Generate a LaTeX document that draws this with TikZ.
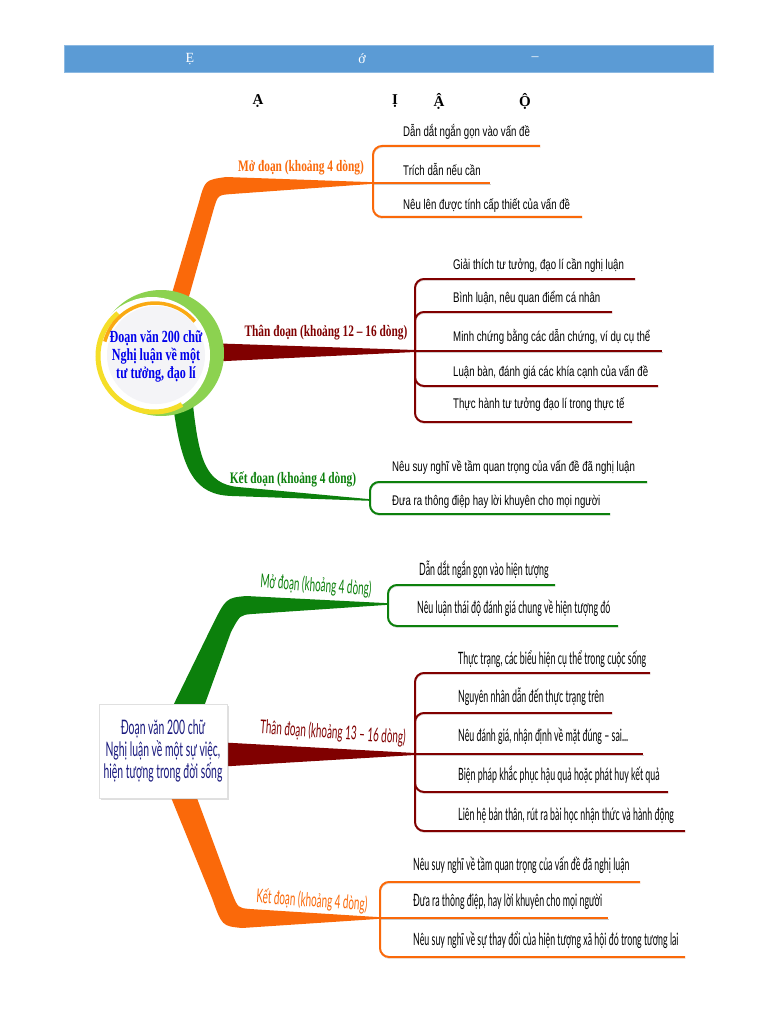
\documentclass[tikz,border=0pt]{standalone}
\usepackage{fontspec}
\setmainfont{Liberation Serif}
\newfontfamily\nhanfont{Liberation Serif}[FakeStretch=0.71]
\newfontfamily\lafont{Liberation Sans}[FakeStretch=0.69]
\newfontfamily\avofont{Lato}[FakeStretch=0.52]
\usetikzlibrary{calc,shadows}

\definecolor{banner}{RGB}{91,155,213}
\definecolor{cam}{RGB}{250,105,10}
\definecolor{nau}{RGB}{128,0,0}
\definecolor{la}{RGB}{12,128,12}
\definecolor{ringgreen}{RGB}{140,210,80}
\definecolor{ringyellow}{RGB}{245,222,40}
\definecolor{ringorange}{RGB}{250,170,20}
\definecolor{discgray}{RGB}{244,244,247}
\definecolor{xanh}{RGB}{0,0,235}
\definecolor{navy}{RGB}{25,25,125}

\begin{document}
\begin{tikzpicture}[
    x=1pt, y=-1pt,
    every node/.style={inner sep=0pt},
    leafA/.style={font=\lafont\fontsize{14}{16}\selectfont, anchor=west, text height=9.5pt, text depth=3pt},
    leafB/.style={font=\avofont\fontsize{17}{19}\selectfont, anchor=west, text height=11pt, text depth=3.5pt},
    labA/.style={font=\nhanfont\bfseries\fontsize{16}{18}\selectfont},
    labB/.style={font=\avofont\fontsize{19}{21}\selectfont, rotate=-4},
    twig/.style={line width=2pt, rounded corners=9pt,
      preaction={draw=black!20, transform canvas={shift={(0.5pt,-1.5pt)}}}}
]
  \fill[white] (0,0) rectangle (768,1024);
  \useasboundingbox (0,0) rectangle (768,1024);

  % Banner and title
  \node[fill=banner, draw=banner!70!white, minimum width=649pt, minimum height=27pt, anchor=north west] (banner) at (64,45) {};
  \node[text=white, font=\fontsize{14}{16}\selectfont] (bn1) at (190,59) {Ẹ};
  \node[text=white, font=\fontsize{14}{16}\selectfont] (bn2) at (362,59) {ớ};
  \node[text=white, font=\fontsize{14}{16}\selectfont] (bn3) at (535,59) {–};
  \node[font=\bfseries\fontsize{15}{17}\selectfont] (td1) at (258,101) {Ạ};
  \node[font=\bfseries\fontsize{15}{17}\selectfont] (td2) at (395,101) {Ị};
  \node[font=\bfseries\fontsize{15}{17}\selectfont] (td3) at (439,101) {Ậ};
  \node[font=\bfseries\fontsize{15}{17}\selectfont] (td4) at (525,101) {Ộ};

  % Map 1: branch points
  \coordinate (mo1) at (373,183);
  \coordinate (than1) at (415,351);
  \coordinate (ket1) at (370,500);

  % Map 1: thick branches
  \fill[cam] (170,300) -- (199,202) .. controls (205,180) .. (226,177) -- ($(mo1)+(0,-0.8)$)
    -- ($(mo1)+(0,0.8)$) -- (232,194) .. controls (218,195) .. (214,208) -- (188,300) -- cycle;
  \fill[nau] (205,343) -- ($(than1)+(0,-1)$) -- ($(than1)+(0,1)$) -- (205,362) -- cycle;
  \fill[la] (173,405) .. controls (182,472) and (195,495) .. (232,496) -- ($(ket1)+(0,0.8)$)
    -- ($(ket1)+(0,-0.8)$) -- (238,487) .. controls (206,484) and (199,460) .. (193,405) -- cycle;

  % Map 1: central circle
  \fill[ringgreen] (161,353) circle[radius=63];
  \fill[white] (152,355) circle[radius=58];
  \draw[ringyellow, line width=5pt] (154,356) ++(230:56) arc[start angle=230, end angle=60, radius=56];
  \draw[ringorange, line width=3.5pt] (155,355) ++(195:52) arc[start angle=195, end angle=320, radius=52];
  \fill[discgray] (156,355) circle[radius=49];
  \node[align=center, text=xanh, font=\nhanfont\bfseries\fontsize{17}{18}\selectfont] (goc1) at (156,356)
    {Đoạn văn 200 chữ\\Nghị luận về một\\tư tưởng, đạo lí};

  % Map 1: labels
  \node[labA, text=cam] (lm1) at (301,168) {Mở đoạn (khoảng 4 dòng)};
  \node[labA, text=nau] (lt1) at (326,333) {Thân đoạn (khoảng 12 – 16 dòng)};
  \node[labA, text=la] (lk1) at (293,479) {Kết đoạn (khoảng 4 dòng)};

  % Map 1: twigs
  \draw[twig, cam] (mo1) |- (540,146);
  \draw[twig, cam] (mo1) -- (490,183);
  \draw[twig, cam] (mo1) |- (582,217);
  \draw[twig, nau] (than1) |- (635,279);
  \draw[twig, nau] (than1) |- (612,312);
  \draw[twig, nau] (than1) -- (662,351);
  \draw[twig, nau] (than1) |- (658,386);
  \draw[twig, nau] (than1) |- (632,422);
  \draw[twig, la] (ket1) |- (647,482);
  \draw[twig, la] (ket1) |- (610,514);

  % Map 1: leaves
  \node[leafA] (m1a) at (403,133) {Dẫn dắt ngắn gọn vào vấn đề};
  \node[leafA] (m1b) at (403,172) {Trích dẫn nếu cần};
  \node[leafA] (m1c) at (403,206) {Nêu lên được tính cấp thiết của vấn đề};
  \node[leafA] (t1a) at (453,266) {Giải thích tư tưởng, đạo lí cần nghị luận};
  \node[leafA] (t1b) at (453,299) {Bình luận, nêu quan điểm cá nhân};
  \node[leafA] (t1c) at (453,338) {Minh chứng bằng các dẫn chứng, ví dụ cụ thể};
  \node[leafA] (t1d) at (453,373) {Luận bàn, đánh giá các khía cạnh của vấn đề};
  \node[leafA] (t1e) at (453,405) {Thực hành tư tưởng đạo lí trong thực tế};
  \node[leafA] (k1a) at (392,468) {Nêu suy nghĩ về tầm quan trọng của vấn đề đã nghị luận};
  \node[leafA] (k1b) at (392,502) {Đưa ra thông điệp hay lời khuyên cho mọi người};

  % Map 2: branch points
  \coordinate (mo2) at (388,604);
  \coordinate (than2) at (415,754);
  \coordinate (ket2) at (380,918);

  % Map 2: thick branches
  \fill[la] (170,712) -- (212,626) .. controls (226,598) .. (246,596) -- ($(mo2)+(0,-0.8)$)
    -- ($(mo2)+(0,0.8)$) -- (252,614) .. controls (240,615) .. (231,632) -- (202,712) -- cycle;
  \fill[nau] (215,742) -- ($(than2)+(0,-1)$) -- ($(than2)+(0,1)$) -- (215,767) -- cycle;
  \fill[cam] (168,790) -- (212,898) .. controls (222,926) .. (242,928) -- ($(ket2)+(0,0.8)$)
    -- ($(ket2)+(0,-0.8)$) -- (250,909) .. controls (238,908) .. (232,893) -- (194,790) -- cycle;

  % Map 2: central box
  \node[draw=black!12, fill=white, drop shadow={opacity=0.25, shadow xshift=1.5pt, shadow yshift=-1.5pt},
    minimum width=128pt, minimum height=94pt, align=center, text=navy,
    font=\avofont\fontsize{20}{22}\selectfont] (goc2) at (163,751)
    {Đoạn văn 200 chữ\\Nghị luận về một sự việc,\\hiện tượng trong đời sống};

  % Map 2: labels
  \node[labB, text=la] (lm2) at (316,586) {Mở đoạn (khoảng 4 dòng)};
  \node[labB, text=nau] (lt2) at (333,733) {Thân đoạn (khoảng 13 – 16 dòng)};
  \node[labB, text=cam] (lk2) at (312,901) {Kết đoạn (khoảng 4 dòng)};

  % Map 2: twigs
  \draw[twig, la] (mo2) |- (555,585);
  \draw[twig, la] (mo2) |- (618,626);
  \draw[twig, nau] (than2) |- (650,673);
  \draw[twig, nau] (than2) |- (612,713);
  \draw[twig, nau] (than2) -- (643,754);
  \draw[twig, nau] (than2) |- (668,792);
  \draw[twig, nau] (than2) |- (685,831);
  \draw[twig, cam] (ket2) |- (640,882);
  \draw[twig, cam] (ket2) -- (608,918);
  \draw[twig, cam] (ket2) |- (685,957);

  % Map 2: leaves
  \node[leafB] (m2a) at (419,572) {Dẫn dắt ngắn gọn vào hiện tượng};
  \node[leafB] (m2b) at (417,610) {Nêu luận thái độ đánh giá chung về hiện tượng đó};
  \node[leafB] (t2a) at (458,661) {Thực trạng, các biểu hiện cụ thể trong cuộc sống};
  \node[leafB] (t2b) at (458,699) {Nguyên nhân dẫn đến thực trạng trên};
  \node[leafB] (t2c) at (458,738) {Nêu đánh giá, nhận định về mặt đúng – sai...};
  \node[leafB] (t2d) at (458,777) {Biện pháp khắc phục hậu quả hoặc phát huy kết quả};
  \node[leafB] (t2e) at (458,817) {Liên hệ bản thân, rút ra bài học nhận thức và hành động};
  \node[leafB] (k2a) at (413,867) {Nêu suy nghĩ về tầm quan trọng của vấn đề đã nghị luận};
  \node[leafB] (k2b) at (413,903) {Đưa ra thông điệp, hay lời khuyên cho mọi người};
  \node[leafB] (k2c) at (413,942) {Nêu suy nghĩ về sự thay đổi của hiện tượng xã hội đó trong tương lai};
\end{tikzpicture}
\end{document}
